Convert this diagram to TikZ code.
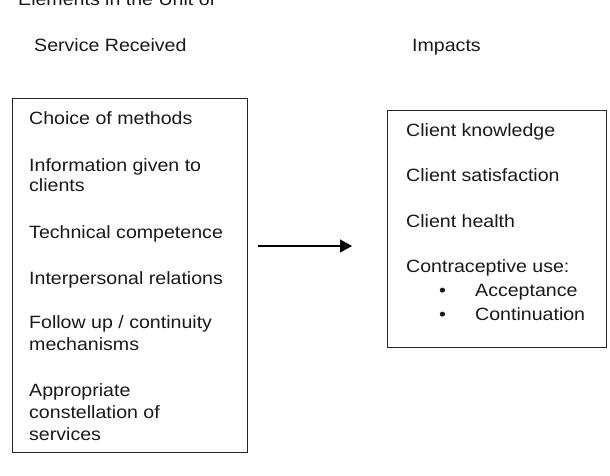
\documentclass[tikz,border=0pt]{standalone}
\usepackage{fontspec}
\setmainfont{Liberation Sans}[FakeStretch=1.1]
\usetikzlibrary{arrows.meta}
\begin{document}
\begin{tikzpicture}[x=1pt,y=-1pt,
  txt/.style={anchor=base west,inner sep=0pt,font=\fontsize{17.8}{21}\selectfont,text=black!90},
  box/.style={draw=black!85,line width=1.2pt,inner sep=0pt,anchor=north west},
  conn/.style={draw=black,line width=1.2pt,-{Triangle[length=12pt,width=13pt]}}]
\useasboundingbox (0,0) rectangle (610,476);
% headings
\node[txt] (title) at (18,6) {Elements in the Unit of};
\node[txt] (srv) at (34,51.7) {Service Received};
\node[txt] (imp) at (412,51.7) {Impacts};
% boxes
\node[box,minimum width=235.5pt,minimum height=354pt] (left) at (11.5,98) {};
\node[box,minimum width=219pt,minimum height=236.5pt] (right) at (387,110) {};
% left items
\node[txt] (l1) at (29,124.3) {Choice of methods};
\node[txt] (l2a) at (29,171.7) {Information given to};
\node[txt] (l2b) at (29,191.7) {clients};
\node[txt] (l3) at (29,238.3) {Technical competence};
\node[txt] (l4) at (29,284) {Interpersonal relations};
\node[txt] (l5a) at (29,328.3) {Follow up / continuity};
\node[txt] (l5b) at (29,350) {mechanisms};
\node[txt] (l6a) at (29,396) {Appropriate};
\node[txt] (l6b) at (29,418) {constellation of};
\node[txt] (l6c) at (29,440) {services};
% right items
\node[txt] (r1) at (406,136.7) {Client knowledge};
\node[txt] (r2) at (406,181.7) {Client satisfaction};
\node[txt] (r3) at (406,227.3) {Client health};
\node[txt] (r4) at (406,272.7) {Contraceptive use:};
\node[txt] (b1) at (439,296.7) {•};
\node[txt] (r5) at (475,296.7) {Acceptance};
\node[txt] (b2) at (439,320) {•};
\node[txt] (r6) at (475,320) {Continuation};
% arrow
\coordinate (as) at (258,246);
\coordinate (ae) at (352,246);
\draw[conn] (as) -- (ae);
\end{tikzpicture}
\end{document}
